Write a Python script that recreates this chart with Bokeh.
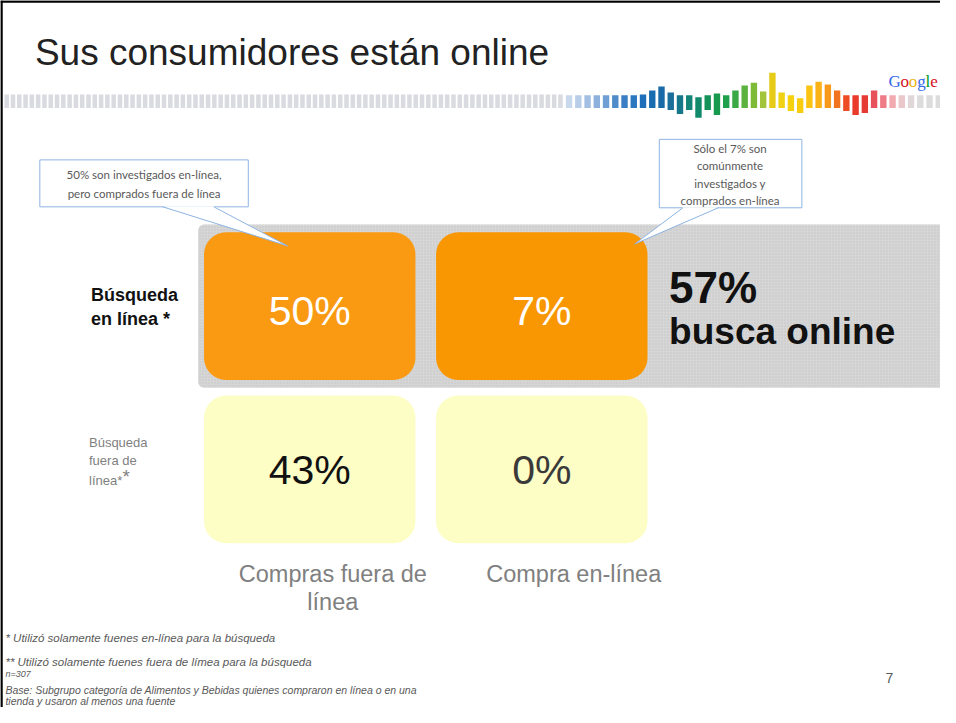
import numpy as np
from bokeh.plotting import figure
from bokeh.models import Range1d, ColumnDataSource
from bokeh.core.properties import value
from bokeh.embed import file_html
from bokeh.resources import INLINE

# ---------------- data ----------------
title = "Sus consumidores están online"
row_labels = ["Búsqueda\nen línea *", "Búsqueda\nfuera de"]
col_labels = ["Compras fuera de\nlínea", "Compra en-línea"]
online_search = [50, 7]     # Búsqueda en línea, by purchase column
offline_search = [43, 0]    # Búsqueda fuera de línea, by purchase column
online_total = 57
callout_1 = "50% son investigados en-línea,\npero comprados fuera de línea"
callout_2 = "Sólo el 7% son\ncomúnmente\ninvestigados y\ncomprados en-línea"
footnotes = [
    "* Utilizó solamente fuenes en-línea para la búsqueda",
    "** Utilizó solamente fuenes fuera de límea para la búsqueda",
    "n=307",
    "Base: Subgrupo categoría de Alimentos y Bebidas quienes compraron en línea o en una",
    "tienda y usaron al menos una fuente",
]
page_number = "7"

# decorative strip (colored part)
strip_colors = ["#c9d9ec", "#b8cde8", "#a3c0e3", "#8db1dc", "#6f9fd4", "#4f8bc9", "#3a7fc3",
                "#2a76bf", "#1c6fb8", "#1a6cb0", "#1a6aa8", "#1b6d9a", "#16768a", "#138478",
                "#108a6a", "#13935a", "#17994e", "#1fa04a", "#3aa845", "#5bb23f", "#7dbb37",
                "#a1c43a", "#e6cc18", "#efd213", "#f6d10e", "#f8cd0e", "#fbc412", "#fbb216",
                "#f79a1b", "#f2731d", "#ee4d24", "#e93a2a", "#e63a35", "#e8505a", "#ee7b86",
                "#f2a9b0", "#eac7ca", "#e0d8d8", "#dcdcdc", "#dcdcdc", "#dcdcdc"]
strip_tops = [97, 97, 97, 97, 97, 97, 97, 97, 96, 92, 88, 94, 97, 97, 99, 97, 95, 97, 92, 87,
              84, 93, 74, 94, 97, 100, 87, 83, 86, 92, 97, 97, 97, 92, 97, 97, 97, 97, 97, 97, 97]
strip_bottoms = [110, 110, 110, 110, 110, 110, 110, 110, 110, 110, 110, 112, 116, 112, 120, 112,
                 117, 110, 110, 110, 110, 110, 110, 110, 113, 115, 110, 110, 110, 110, 113, 117,
                 115, 110, 110, 110, 110, 110, 110, 110, 110]

FONT = value("Liberation Sans")

p = figure(width=940, height=707, output_backend="svg", toolbar_location=None,
           x_range=Range1d(0, 956), y_range=Range1d(723, 0),
           min_border=0, outline_line_color=None)
p.axis.visible = False
p.grid.visible = False
p.background_fill_color = "white"

# slide frame
p.segment(x0=[1, 0], y0=[0, 1], x1=[1, 956], y1=[723, 1], line_color="black", line_width=2.5)

# title
p.text(x=[35], y=[53], text=[title], text_font=FONT, text_font_size="37px",
       text_color="#222222", text_baseline="middle")

# decorative gray strip
gx = np.arange(4, 572, 6.4)
p.quad(left=gx, right=gx + 4.6, top=96, bottom=110, fill_color="#d9dbe0", line_color=None)
cx = 575 + 9.4 * np.arange(len(strip_colors))
p.quad(left=cx, right=cx + 6.5, top=strip_tops, bottom=strip_bottoms,
       fill_color=strip_colors, line_color=None)

# Google word
g_letters = ["G", "o", "o", "g", "l", "e"]
g_colors = ["#3369e8", "#d50f25", "#eeb211", "#3369e8", "#009925", "#d50f25"]
g_x = [903, 915.3, 923.8, 932.3, 940.8, 945.5]
p.text(x=g_x, y=[83] * 6, text=g_letters, text_color=g_colors,
       text_font=value("Liberation Serif"), text_font_size="17px", text_baseline="middle")

# gray band behind the online row
p.quad(left=[201], right=[975], top=[229], bottom=[396], fill_color="#d6d6d6",
       line_color=None, border_radius=6, hatch_pattern="dot", hatch_color="#c4c4c4",
       hatch_scale=3, hatch_weight=1)

# cells
col_left = [207, 443]
box_w = 215
row_top = [237, 404]
box_h = 151
src = ColumnDataSource(dict(
    left=[col_left[0], col_left[1], col_left[0], col_left[1]],
    right=[col_left[0] + box_w, col_left[1] + box_w, col_left[0] + box_w, col_left[1] + box_w],
    top=[row_top[0], row_top[0], row_top[1], row_top[1]],
    bottom=[row_top[0] + box_h] * 2 + [row_top[1] + box_h] * 2,
    color=["#fa9a12", "#f99703", "#fdfdc6", "#fdfdc6"],
    label=[f"{v}%" for v in online_search + offline_search],
    tx=[col_left[0] + box_w / 2, col_left[1] + box_w / 2] * 2,
    ty=[row_top[0] + 81] * 2 + [row_top[1] + 76] * 2,
    tcolor=["white", "white", "#111111", "#3a3a3a"],
))
p.quad(left="left", right="right", top="top", bottom="bottom", fill_color="color",
       line_color=None, border_radius=22, source=src)
p.text(x="tx", y="ty", text="label", text_color="tcolor", text_font=FONT,
       text_font_size="41px", text_align="center", text_baseline="middle", source=src)

# total
p.text(x=[680], y=[294], text=[f"{online_total}%"], text_font=FONT, text_font_size="44px",
       text_font_style="bold", text_color="#111111", text_baseline="middle")
p.text(x=[680], y=[338], text=["busca online"], text_font=FONT, text_font_size="37px",
       text_font_style="bold", text_color="#111111", text_baseline="middle")

# row labels
p.text(x=[92], y=[313], text=[row_labels[0]], text_font=FONT, text_font_size="18px",
       text_font_style="bold", text_color="#111111", text_baseline="middle", text_line_height=1.2)
p.text(x=[90], y=[461], text=[row_labels[1]], text_font=FONT, text_font_size="13px",
       text_color="#7f7f7f", text_baseline="middle", text_line_height=1.2)
p.text(x=[90], y=[491], text=["línea*"], text_font=FONT, text_font_size="13px",
       text_color="#7f7f7f", text_baseline="middle")
p.text(x=[124], y=[487], text=["*"], text_font=FONT, text_font_size="19px",
       text_color="#7f7f7f", text_baseline="middle")

# column labels
p.text(x=[338, 583], y=[573, 573], text=col_labels, text_font=FONT, text_font_size="23.5px",
       text_color="#808080", text_align="center", text_baseline="top", text_line_height=1.07)

# callouts
CALL = "#8eb4e3"
p.quad(left=[40, 670], right=[252, 815], top=[163, 142], bottom=[211, 212],
       fill_color="white", line_color=CALL, line_width=1)
p.patches(xs=[[165, 292, 217], [694, 645, 730]], ys=[[210.5, 251, 210.5], [211.5, 249, 211.5]],
          fill_color="white", line_color=None)
p.segment(x0=[165, 217, 694, 730], y0=[211, 211, 212, 212],
          x1=[292, 292, 645, 645], y1=[251, 251, 249, 249], line_color=CALL, line_width=1)
p.text(x=[146], y=[188], text=[callout_1], text_font=value("Lato"), text_font_size="11.5px",
       text_color="#595959", text_align="center", text_baseline="middle", text_line_height=1.45)
p.text(x=[742], y=[178], text=[callout_2], text_font=value("Lato"), text_font_size="11.5px",
       text_color="#595959", text_align="center", text_baseline="middle", text_line_height=1.35)

# footnotes
p.text(x=[5] * 5, y=[652, 676, 689, 705, 716], text=footnotes, text_font=FONT,
       text_font_size=["11.5px", "11.5px", "9px", "10.5px", "10.5px"],
       text_font_style="italic", text_color="#595959", text_baseline="middle")
p.text(x=[904], y=[693], text=[page_number], text_font=FONT, text_font_size="14px",
       text_color="#595959", text_align="center", text_baseline="middle")

open("out.html", "w").write(file_html(p, INLINE))
